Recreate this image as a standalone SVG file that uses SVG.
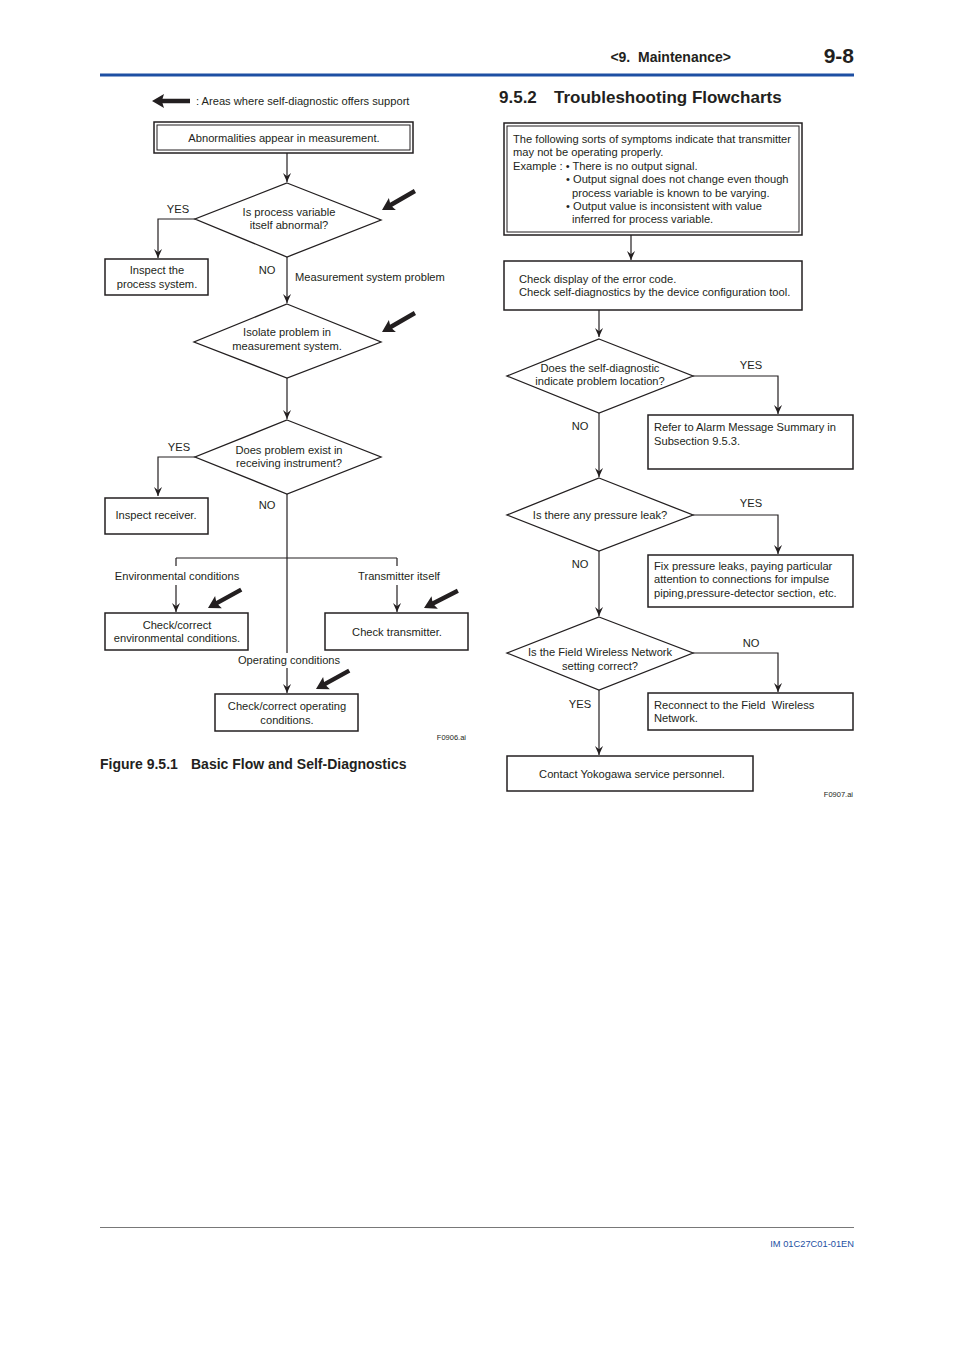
<svg xmlns="http://www.w3.org/2000/svg" width="954" height="1350" viewBox="0 0 954 1350">
<defs>
<style>
text{font-family:"Liberation Sans",Arial,Helvetica,sans-serif;fill:#231f20;font-size:11.15px}
.c{text-anchor:middle}
.b{font-weight:bold}
.box{fill:#fff;stroke:#231f20;stroke-width:1.5}
.dia{fill:#fff;stroke:#231f20;stroke-width:1.3}
.ln{fill:none;stroke:#231f20;stroke-width:1.2}
.ar{fill:none;stroke:#231f20;stroke-width:1.2;marker-end:url(#ah)}
.sm{font-size:7.5px}
</style>
<marker id="ah" viewBox="0 0 10 10" refX="10" refY="5" markerWidth="9" markerHeight="9" markerUnits="userSpaceOnUse" orient="auto">
<path d="M10,5 L0,0.5 L3.5,5 L0,9.5 Z" fill="#231f20"/>
</marker>
<path id="bold" d="M0,0 L12,-7 L10.5,-2.2 L38,-2.2 L38,2.2 L10.5,2.2 L12,7 Z" fill="#231f20"/>
</defs>
<rect width="954" height="1350" fill="#fff"/>

<g id="header">
<text x="731" y="62" class="b" style="font-size:14px;text-anchor:end;white-space:pre">&lt;9.  Maintenance&gt;</text>
<text x="854" y="63" class="b" style="font-size:21px;text-anchor:end">9-8</text>
<rect x="100" y="73.5" width="754" height="3" fill="#1d4fa3"/>
</g>

<g id="legend">
<use href="#bold" transform="translate(152,101)"/>
<text x="196" y="105">: Areas where self-diagnostic offers support</text>
</g>

<g id="connectors">
<line class="ar" x1="287" y1="153" x2="287" y2="182"/>
<polyline class="ar" points="195,219 158,219 158,258"/>
<line class="ar" x1="287" y1="257" x2="287" y2="303"/>
<line class="ar" x1="287" y1="378" x2="287" y2="419"/>
<polyline class="ar" points="195,457 158,457 158,496"/>
<line class="ln" x1="287" y1="494" x2="287" y2="653"/>
<line class="ln" x1="176" y1="558" x2="397" y2="558"/>
<line class="ln" x1="176" y1="558" x2="176" y2="566"/>
<line class="ar" x1="176" y1="585" x2="176" y2="612"/>
<line class="ln" x1="397" y1="558" x2="397" y2="566"/>
<line class="ar" x1="397" y1="585" x2="397" y2="612"/>
<line class="ar" x1="287" y1="668" x2="287" y2="693"/>
<line class="ar" x1="631" y1="235" x2="631" y2="260"/>
<line class="ar" x1="599" y1="310" x2="599" y2="337"/>
<polyline class="ar" points="693,376 778,376 778,414"/>
<line class="ar" x1="599" y1="413" x2="599" y2="477"/>
<polyline class="ar" points="693,515 778,515 778,554"/>
<line class="ar" x1="599" y1="551" x2="599" y2="616"/>
<polyline class="ar" points="693,653 778,653 778,692"/>
<line class="ar" x1="599" y1="690" x2="599" y2="755"/>
</g>

<g id="labels">
<text x="178" y="213" class="c">YES</text>
<text x="267" y="274" class="c">NO</text>
<text x="295" y="281">Measurement system problem</text>
<text x="179" y="451" class="c">YES</text>
<text x="267" y="509" class="c">NO</text>
<text x="177" y="580" class="c">Environmental conditions</text>
<text x="399" y="580" class="c">Transmitter itself</text>
<text x="289" y="664" class="c">Operating conditions</text>
<text x="751" y="369" class="c">YES</text>
<text x="580" y="430" class="c">NO</text>
<text x="751" y="507" class="c">YES</text>
<text x="580" y="568" class="c">NO</text>
<text x="751" y="647" class="c">NO</text>
<text x="580" y="708" class="c">YES</text>
</g>

<g id="selfdiag-arrows">
<use href="#bold" transform="translate(382,210) rotate(-30)"/>
<use href="#bold" transform="translate(382,332) rotate(-30)"/>
<use href="#bold" transform="translate(208,608) rotate(-29)"/>
<use href="#bold" transform="translate(424,608) rotate(-27)"/>
<use href="#bold" transform="translate(316,689) rotate(-29)"/>
</g>

<g id="n-abnormal">
<rect class="box" x="154" y="122" width="259" height="31"/>
<rect x="157" y="125" width="253" height="25" fill="none" stroke="#231f20" stroke-width="1"/>
<text x="284" y="142" class="c">Abnormalities appear in measurement.</text>
</g>

<g id="n-pv">
<polygon class="dia" points="287,183 381,220 287,257 195,219"/>
<text x="289" y="216" class="c">Is process variable</text>
<text x="289" y="229" class="c">itself abnormal?</text>
</g>

<g id="n-inspect-process">
<rect class="box" x="105" y="259" width="103" height="36"/>
<text x="157" y="274" class="c">Inspect the</text>
<text x="157" y="288" class="c">process system.</text>
</g>

<g id="n-isolate">
<polygon class="dia" points="287,304 381,342 287,378 194,342"/>
<text x="287" y="336" class="c">Isolate problem in</text>
<text x="287" y="350" class="c">measurement system.</text>
</g>

<g id="n-receiving">
<polygon class="dia" points="287,420 381,457 287,494 195,457"/>
<text x="289" y="454" class="c">Does problem exist in</text>
<text x="289" y="467" class="c">receiving instrument?</text>
</g>

<g id="n-inspect-receiver">
<rect class="box" x="105" y="498" width="103" height="36"/>
<text x="156" y="519" class="c">Inspect receiver.</text>
</g>

<g id="n-env">
<rect class="box" x="105" y="613" width="143" height="37"/>
<text x="177" y="629" class="c">Check/correct</text>
<text x="177" y="642" class="c">environmental conditions.</text>
</g>

<g id="n-transmitter">
<rect class="box" x="325" y="613" width="143" height="37"/>
<text x="397" y="636" class="c">Check transmitter.</text>
</g>

<g id="n-operating">
<rect class="box" x="215" y="694" width="143" height="37"/>
<text x="287" y="710" class="c">Check/correct operating</text>
<text x="287" y="724" class="c">conditions.</text>
</g>

<g id="caption-left">
<text x="466" y="740" class="sm" style="text-anchor:end">F0906.ai</text>
<text x="100" y="769" class="b" style="font-size:14px">Figure 9.5.1</text>
<text x="191" y="769" class="b" style="font-size:14px">Basic Flow and Self-Diagnostics</text>
</g>

<g id="title-right">
<text x="499" y="103" class="b" style="font-size:17px">9.5.2</text>
<text x="554" y="103" class="b" style="font-size:17px">Troubleshooting Flowcharts</text>
</g>

<g id="n-symptoms">
<rect class="box" x="504" y="123" width="298" height="112"/>
<rect x="507" y="126" width="292" height="106" fill="none" stroke="#231f20" stroke-width="1"/>
<text x="513" y="143">The following sorts of symptoms indicate that transmitter</text>
<text x="513" y="156">may not be operating properly.</text>
<text x="513" y="170">Example : • There is no output signal.</text>
<text x="566" y="183">• Output signal does not change even though</text>
<text x="572" y="197">process variable is known to be varying.</text>
<text x="566" y="210">• Output value is inconsistent with value</text>
<text x="572" y="223">inferred for process variable.</text>
</g>

<g id="n-check-display">
<rect class="box" x="504" y="261" width="298" height="49"/>
<text x="519" y="283">Check display of the error code.</text>
<text x="519" y="296">Check self-diagnostics by the device configuration tool.</text>
</g>

<g id="n-selfdiag">
<polygon class="dia" points="599,339 693,376 599,413 507,376"/>
<text x="600" y="372" class="c">Does the self-diagnostic</text>
<text x="600" y="385" class="c">indicate problem location?</text>
</g>

<g id="n-alarm">
<rect class="box" x="648" y="415" width="205" height="54"/>
<text x="654" y="431">Refer to Alarm Message Summary in</text>
<text x="654" y="445">Subsection 9.5.3.</text>
</g>

<g id="n-leak">
<polygon class="dia" points="599,478 693,515 599,551 507,515"/>
<text x="600" y="519" class="c">Is there any pressure leak?</text>
</g>

<g id="n-fix">
<rect class="box" x="648" y="555" width="205" height="52"/>
<text x="654" y="570">Fix pressure leaks, paying particular</text>
<text x="654" y="583">attention to connections for impulse</text>
<text x="654" y="597">piping,pressure-detector section, etc.</text>
</g>

<g id="n-network">
<polygon class="dia" points="599,617 693,653 599,690 507,653"/>
<text x="600" y="656" class="c">Is the Field Wireless Network</text>
<text x="600" y="670" class="c">setting correct?</text>
</g>

<g id="n-reconnect">
<rect class="box" x="648" y="693" width="205" height="37"/>
<text x="654" y="709" style="white-space:pre">Reconnect to the Field  Wireless</text>
<text x="654" y="722">Network.</text>
</g>

<g id="n-contact">
<rect class="box" x="507" y="756" width="246" height="35"/>
<text x="632" y="778" class="c">Contact Yokogawa service personnel.</text>
</g>

<g id="footer">
<text x="853" y="797" class="sm" style="text-anchor:end">F0907.ai</text>
<line x1="100" y1="1227.5" x2="854" y2="1227.5" stroke="#555" stroke-width="0.8"/>
<text x="854" y="1247" style="font-size:9.3px;text-anchor:end;fill:#1d4fa3">IM 01C27C01-01EN</text>
</g>
</svg>
